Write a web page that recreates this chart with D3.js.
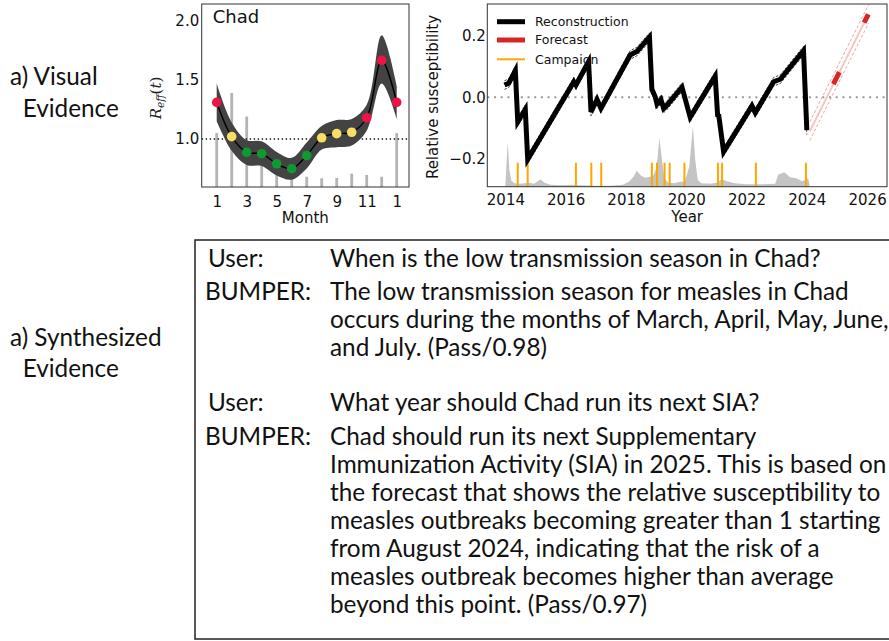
<!DOCTYPE html>
<html><head><meta charset="utf-8">
<script src="https://cdn.jsdelivr.net/npm/d3@7"></script>
<style>body{margin:0;background:#fff} svg{display:block}</style>
</head><body><svg id="c" width="889" height="641"></svg>
<script>
// ---------- Left panel data (monthly R_eff) ----------
const months = [1,2,3,4,5,6,7,8,9,10,11,12,13];
const monthTickValues = [1,3,5,7,9,11,13];
const monthTickLabels = ["1","3","5","7","9","11","1"];
const reff     = [1.31,1.02,0.887,0.875,0.79,0.748,0.86,1.01,1.045,1.057,1.18,1.667,1.31];
const reffLow  = [1.15,0.90,0.78,0.77,0.69,0.655,0.75,0.91,0.93,0.945,1.07,1.47,1.17];
const reffHigh = [1.47,1.14,0.99,0.98,0.89,0.84,0.97,1.11,1.16,1.17,1.29,1.88,1.45];
const seasonClass = ["high","mid","low","low","low","low","low","mid","mid","mid","high","high","high"];
const monthBars = [1.05,1.39,1.19,0.80,0.73,0.68,0.68,0.667,0.67,0.706,0.695,0.68,1.05];
const reffTicks = [1.0,1.5,2.0];

// ---------- Right panel data (relative susceptibility) ----------
const reconT = [2013.97,2014.11,2014.33,2014.41,2014.66,2014.74,2016.27,2016.34,2016.76,2016.84,2017.04,2017.17,
  2018.14,2018.36,2018.78,2018.86,2018.97,2019.03,2019.16,2019.25,2019.34,2019.86,2020.13,2020.96,2021.04,2021.08,
  2021.24,2022.18,2022.29,2022.90,2023.12,2023.89,2024.00];
const reconV = [0.040,0.046,0.087,-0.080,-0.039,-0.202,0.051,0.040,0.116,-0.047,-0.007,-0.036,
  0.138,0.149,0.196,0.026,0.002,-0.022,-0.007,-0.036,-0.028,0.033,-0.065,0.069,-0.058,-0.060,
  -0.177,-0.028,-0.050,0.051,0.059,0.152,-0.107];
const reconErr = 0.014;
const forecastT = [2024.1, 2026.05];
const forecastV = [-0.11, 0.272];
const forecastErr = 0.03;
const forecastSegT = [[2024.88,2025.08],[2025.90,2026.04]];
const forecastSegV = [[0.043,0.082],[0.243,0.270]];
const campaignT = [2014.41,2014.74,2016.34,2016.85,2017.18,2018.86,2019.03,2019.28,2019.45,2019.94,2021.05,2021.19,2022.31,2023.97];
const campaignTop = -0.213;
const caseT = [2014.0,2014.03,2014.08,2014.13,2014.2,2014.3,2014.5,2014.77,2014.95,2015.1,2015.16,2015.3,2015.5,2015.8,
  2016.2,2016.5,2017.0,2017.5,2017.9,2018.1,2018.25,2018.36,2018.5,2018.65,2018.8,2018.92,2019.02,2019.11,2019.2,
  2019.27,2019.4,2019.6,2019.8,2019.95,2020.1,2020.22,2020.3,2020.38,2020.5,2020.8,2021.02,2021.18,2021.35,2021.6,
  2022.0,2022.5,2022.95,2023.05,2023.25,2023.45,2023.65,2023.85,2024.05,2024.1];
const caseV = [0,200,450,170,60,35,30,40,30,60,75,40,20,15,
  20,15,10,10,20,50,100,160,110,90,100,120,200,490,260,
  90,40,35,50,50,200,610,270,70,35,30,40,75,55,35,
  25,25,30,120,145,95,85,55,85,0];
const caseMax = 610;
const yearTicks = [2014,2016,2018,2020,2022,2024,2026];
const suscTicks = [-0.2,0.0,0.2];
const legendLabels = ["Reconstruction","Forecast","Campaign"];

// ---------- Text ----------
const sideLabels = [["a) Visual","Evidence"],["a) Synthesized","Evidence"]];
const qa = [
  {q:"When is the low transmission season in Chad?",
   a:["The low transmission season for measles in Chad","occurs during the months of March, April, May, June,","and July. (Pass/0.98)"]},
  {q:"What year should Chad run its next SIA?",
   a:["Chad should run its next Supplementary","Immunization Activity (SIA) in 2025. This is based on",
      "the forecast that shows the relative susceptibility to","measles outbreaks becoming greater than 1 starting",
      "from August 2024, indicating that the risk of a","measles outbreak becomes higher than average","beyond this point. (Pass/0.97)"]}
];

const svg = d3.select("#c");
const CF = "DejaVu Sans, sans-serif";

// ================= LEFT PANEL =================
const L = {x0:201.7, x1:409, y0:4, y1:187};
const xL = d3.scaleLinear().domain([0,13.82]).range([L.x0,L.x1]);
const yL = d3.scaleLinear().domain([0.593,2.144]).range([L.y1,L.y0]);
const gL = svg.append("g");
gL.selectAll("rect.bar").data(months).join("rect")
  .attr("x",(d)=>xL(d)-1.4).attr("width",2.8)
  .attr("y",(d,i)=>yL(monthBars[i])).attr("height",(d,i)=>L.y1-yL(monthBars[i]))
  .attr("fill","#b4b4b4");
gL.append("line").attr("x1",L.x0).attr("x2",L.x1).attr("y1",yL(1)).attr("y2",yL(1))
  .attr("stroke","#111").attr("stroke-width",1.3).attr("stroke-dasharray","1.4,2.6");
const bandL = d3.area().x((d)=>xL(d)).y0((d,i)=>yL(reffLow[i])).y1((d,i)=>yL(reffHigh[i])).curve(d3.curveCatmullRom.alpha(0.5));
gL.append("path").attr("d",bandL(months)).attr("fill","#434343");
const lineL = d3.line().x((d)=>xL(d)).y((d,i)=>yL(reff[i])).curve(d3.curveCatmullRom.alpha(0.5));
gL.append("path").attr("d",lineL(months)).attr("fill","none").attr("stroke","#000").attr("stroke-width",1.4);
const dotColor = {high:"#ee1347", mid:"#f8df63", low:"#0e9a33"};
gL.selectAll("circle").data(months).join("circle")
  .attr("cx",(d)=>xL(d)).attr("cy",(d,i)=>yL(reff[i])).attr("r",4.8)
  .attr("fill",(d,i)=>dotColor[seasonClass[i]]);
gL.append("rect").attr("x",L.x0).attr("y",L.y0).attr("width",L.x1-L.x0).attr("height",L.y1-L.y0)
  .attr("fill","none").attr("stroke","#333").attr("stroke-width",1);
const axL = gL.append("g").attr("transform",`translate(0,${L.y1})`)
  .call(d3.axisBottom(xL).tickValues(monthTickValues).tickFormat((d,i)=>monthTickLabels[i]).tickSize(0).tickPadding(9));
const ayL = gL.append("g").attr("transform",`translate(${L.x0},0)`)
  .call(d3.axisLeft(yL).tickValues(reffTicks).tickFormat(d3.format(".1f")).tickSize(0).tickPadding(2.5));
[axL,ayL].forEach(a=>{a.select(".domain").remove(); a.selectAll("text").attr("font-family",CF).attr("font-size",15).attr("fill","#111");});
gL.append("text").attr("x",212.7).attr("y",22.7).attr("font-family",CF).attr("font-size",18).attr("fill","#111").text("Chad");
gL.append("text").attr("x",(L.x0+L.x1)/2).attr("y",223).attr("text-anchor","middle").attr("font-family",CF).attr("font-size",15).attr("fill","#111").text("Month");
const rl = gL.append("text").attr("transform","translate(161,98) rotate(-90)").attr("text-anchor","middle")
  .attr("font-family","DejaVu Serif, serif").attr("font-style","italic").attr("font-size",15).attr("fill","#222");
rl.append("tspan").text("R");
rl.append("tspan").attr("font-size",10.5).attr("dy",3).text("eff");
rl.append("tspan").attr("dy",-3).attr("font-style","normal").text("(");
rl.append("tspan").text("t");
rl.append("tspan").attr("font-style","normal").text(")");

// ================= RIGHT PANEL =================
const R = {x0:487.3, x1:887, y0:4, y1:186.7};
const xR = d3.scaleLinear().domain([2013.4,2026.66]).range([R.x0,R.x1]);
const yR = d3.scaleLinear().domain([-0.291,0.304]).range([R.y1,R.y0]);
const yC = d3.scaleLinear().domain([0,caseMax]).range([R.y1,R.y1-60.5]);
const gR = svg.append("g");
const caseArea = d3.area().x((d)=>xR(d)).y0(R.y1).y1((d,i)=>yC(caseV[i]));
gR.append("path").attr("d",caseArea(caseT)).attr("fill","#c4c4c4");
gR.selectAll("line.camp").data(campaignT).join("line")
  .attr("x1",(d)=>xR(d)).attr("x2",(d)=>xR(d)).attr("y1",yR(campaignTop)).attr("y2",R.y1)
  .attr("stroke","#ffa500").attr("stroke-width",2);
gR.append("line").attr("x1",R.x0).attr("x2",R.x1).attr("y1",yR(0)).attr("y2",yR(0))
  .attr("stroke","#999").attr("stroke-width",2).attr("stroke-dasharray","2,4.7");
const lineR = (off)=>d3.line().x((d)=>xR(d)).y((d,i)=>yR(reconV[i]+off));
[reconErr,-reconErr].forEach(o=>{
  gR.append("path").attr("d",lineR(o)(reconT)).attr("fill","none").attr("stroke","#111")
    .attr("stroke-width",0.8).attr("stroke-dasharray","2.5,1.5");
});
gR.append("path").attr("d",lineR(0)(reconT)).attr("fill","none").attr("stroke","#000")
  .attr("stroke-width",5).attr("stroke-linejoin","miter");
const lineF = (off)=>d3.line().x((d)=>xR(d)).y((d,i)=>yR(forecastV[i]+off));
[forecastErr,-forecastErr].forEach(o=>{
  gR.append("path").attr("d",lineF(o)(forecastT)).attr("fill","none").attr("stroke","#f08a8a")
    .attr("stroke-width",0.8).attr("stroke-dasharray","3,2");
});
gR.append("path").attr("d",lineF(0)(forecastT)).attr("fill","none").attr("stroke","#f5c4c4").attr("stroke-width",2);
forecastSegT.forEach((s,k)=>{
  gR.append("line").attr("x1",xR(s[0])).attr("x2",xR(s[1])).attr("y1",yR(forecastSegV[k][0])).attr("y2",yR(forecastSegV[k][1]))
    .attr("stroke","#d62728").attr("stroke-width",5);
});
gR.append("rect").attr("x",R.x0).attr("y",R.y0).attr("width",R.x1-R.x0).attr("height",R.y1-R.y0)
  .attr("fill","none").attr("stroke","#333").attr("stroke-width",1);
const axR = gR.append("g").attr("transform",`translate(0,${R.y1})`)
  .call(d3.axisBottom(xR).tickValues(yearTicks).tickFormat(d3.format("d")).tickSize(0).tickPadding(7.5));
const ayR = gR.append("g").attr("transform",`translate(${R.x0},0)`)
  .call(d3.axisLeft(yR).tickValues(suscTicks).tickFormat(d3.format(".1f")).tickSize(0).tickPadding(1.5));
[axR,ayR].forEach(a=>{a.select(".domain").remove(); a.selectAll("text").attr("font-family",CF).attr("font-size",15).attr("fill","#111");});
gR.append("text").attr("x",(R.x0+R.x1)/2).attr("y",222).attr("text-anchor","middle").attr("font-family",CF).attr("font-size",15).attr("fill","#111").text("Year");
gR.append("text").attr("transform","translate(438,97) rotate(-90)").attr("text-anchor","middle").attr("font-family",CF).attr("font-size",15).attr("fill","#111").text("Relative susceptibility");
const legStyle = [{c:"#000",w:5},{c:"#d62728",w:5},{c:"#ffa500",w:2}];
const legY = [21.7,40,59.3];
legendLabels.forEach((t,i)=>{
  gR.append("line").attr("x1",497).attr("x2",525).attr("y1",legY[i]).attr("y2",legY[i]).attr("stroke",legStyle[i].c).attr("stroke-width",legStyle[i].w);
  gR.append("text").attr("x",535).attr("y",legY[i]).attr("dy","0.35em").attr("font-family",CF).attr("font-size",12.5).attr("fill","#111").text(t);
});

// ================= TEXT SECTION =================
const TF = "Lato, 'Open Sans', sans-serif";
const probe = svg.append("text").attr("font-family",TF).attr("font-size",20).text(qa[0].q);
const fs = 20*491/probe.node().getComputedTextLength();
probe.remove();
const gT = svg.append("g").attr("font-family",TF).attr("font-size",fs).attr("fill","#111");
gT.append("rect").attr("x",195).attr("y",240).attr("width",720).attr("height",399).attr("fill","none").attr("stroke","#222").attr("stroke-width",1.5);
const sideY = [[85,116.7],[346,377]];
const sideX = [10,22.7];
sideLabels.forEach((pair,k)=>pair.forEach((t,j)=>{
  gT.append("text").attr("x",sideX[j]).attr("y",sideY[k][j]).text(t);
}));
const userY = [266.7,411];
const lineH = 28, gapQA = 33.5;
qa.forEach((b,k)=>{
  gT.append("text").attr("x",208).attr("y",userY[k]).text("User:");
  gT.append("text").attr("x",330).attr("y",userY[k]).text(b.q);
  gT.append("text").attr("x",205).attr("y",userY[k]+gapQA).text("BUMPER:");
  b.a.forEach((t,j)=>gT.append("text").attr("x",330).attr("y",userY[k]+gapQA+j*lineH).text(t));
});
</script></body></html>
